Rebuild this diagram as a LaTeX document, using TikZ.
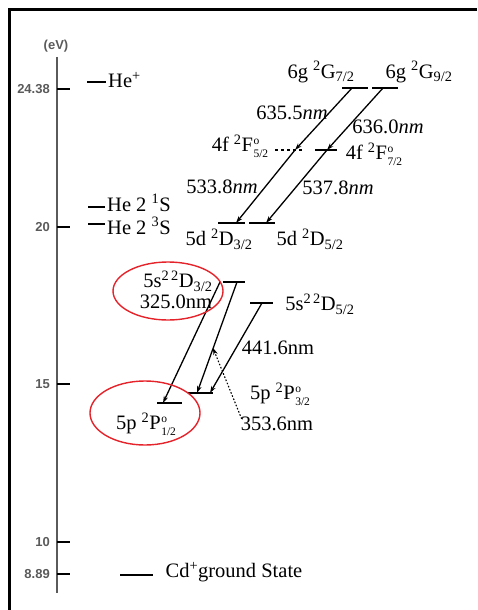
\documentclass[tikz,border=0pt]{standalone}
\usepackage{fontspec}
\setmainfont{Liberation Serif}
\newfontfamily\axisfont{Liberation Sans}
\usepackage{xcolor}
\usepackage{tikz}
\usetikzlibrary{arrows.meta,positioning,calc}
\definecolor{ringred}{HTML}{E5232B}
\definecolor{axisgray}{HTML}{5A5A5A}

% open-shell mark stacked over a subscript
\newcommand{\osub}[1]{\kern0.5pt\raisebox{0.1ex}{\fontsize{11.5}{13}\selectfont
  \begin{tabular}[c]{@{}l@{}}o\\#1\end{tabular}}}

\begin{document}
\begin{tikzpicture}[
  x=1pt,y=-1pt,
  font=\fontsize{20.5}{22}\selectfont,
  lbl/.style={inner sep=0pt},
  tick/.style={font=\axisfont\bfseries\fontsize{13}{13}\selectfont,text=axisgray,
               anchor=east,inner sep=0pt},
  lvl/.style={line width=2pt},
  tr/.style={-{Stealth[length=7pt,width=4.5pt]},line width=1.3pt},
  dotarr/.style={tr,dash pattern=on 1.6pt off 1.8pt,line width=1.1pt},
  ring/.style={draw=ringred,line width=1.4pt},
  frame/.style={line width=3pt},
]
\useasboundingbox (0,0) rectangle (477,610);

% ---- Frame and energy axis
\draw[frame] (9,610) -- (9,10) -- (477,10);
\coordinate (axtop) at (57,57);
\coordinate (axbot) at (57,593);
\draw[draw=axisgray,line width=1.8pt] (axtop) -- (axbot);
\node[tick,anchor=south] (ev) at (56,52) {(eV)};

\draw[line width=1.6pt] (57,89)  -- ++(13,0);
\draw[line width=1.6pt] (57,227) -- ++(13,0);
\draw[line width=1.6pt] (57,384) -- ++(13,0);
\draw[line width=1.6pt] (57,542) -- ++(13,0);
\draw[line width=1.6pt] (57,574) -- ++(13,0);
\node[tick] (t2438) at (50,89)  {24.38};
\node[tick] (t20)   at (50,227) {20};
\node[tick] (t15)   at (50,384) {15};
\node[tick] (t10)   at (50,542) {10};
\node[tick] (t889)  at (50,574) {8.89};

% ---- Helium levels
\draw[lvl] (87,82) coordinate (hep) -- ++(19,0);
\draw[lvl] (88,207) coordinate (he1s) -- ++(17,0);
\draw[lvl] (88,224) coordinate (he3s) -- ++(17,0);
\node[lbl,anchor=west] (lhep)  at (108,80)  {He\textsuperscript{+}};
\node[lbl,anchor=west] (lhe1s) at (107,203) {He 2 \textsuperscript{1}S};
\node[lbl,anchor=west] (lhe3s) at (107,226) {He 2 \textsuperscript{3}S};

% ---- Cd+ levels
\draw[lvl] (342,88)  coordinate (g7) -- ++(26,0);
\draw[lvl] (372,88)  coordinate (g9) -- ++(26,0);
\draw[lvl,dashed] (275,150) coordinate (f5) -- ++(28,0);
\draw[lvl] (315,150) coordinate (f7) -- ++(22,0);
\draw[lvl] (218,223) coordinate (d3) -- ++(27,0);
\draw[lvl] (249,223) coordinate (d5) -- ++(26,0);
\draw[lvl] (223,282) coordinate (s3) -- ++(22,0);
\draw[lvl] (250,303) coordinate (s5) -- ++(23,0);
\draw[lvl] (188,393) coordinate (p3) -- ++(25,0);
\draw[lvl] (157,403) coordinate (p1) -- ++(25,0);
\draw[lvl] (120,575) coordinate (gs) -- ++(33,0);

\node[lbl] (lg7) at (321,72)  {6g \textsuperscript{2}G\textsubscript{7/2}};
\node[lbl] (lg9) at (419,72)  {6g \textsuperscript{2}G\textsubscript{9/2}};
\node[lbl] (lf5) at (240,148) {4f \textsuperscript{2}F\osub{5/2}};
\node[lbl] (lf7) at (374,156) {4f \textsuperscript{2}F\osub{7/2}};
\node[lbl] (ld3) at (219,239) {5d \textsuperscript{2}D\textsubscript{3/2}};
\node[lbl] (ld5) at (310,239) {5d \textsuperscript{2}D\textsubscript{5/2}};
\node[lbl] (ls3) at (178,281) {5s\textsuperscript{2\,2}D\textsubscript{3/2}};
\node[lbl] (ls5) at (320,304) {5s\textsuperscript{2\,2}D\textsubscript{5/2}};
\node[lbl] (lp3) at (280,396) {5p \textsuperscript{2}P\osub{3/2}};
\node[lbl] (lp1) at (146,426) {5p \textsuperscript{2}P\osub{1/2}};
\node[lbl] (lgs) at (234,572) {Cd\textsuperscript{+}ground State};

% ---- Transitions
\draw[tr] ([xshift=10]g7) -- ([xshift=20]f5);
\draw[tr] ([xshift=20]f5) -- ([xshift=18]d3);
\draw[tr] ([xshift=11]g9) -- ([xshift=12]f7);
\draw[tr] ([xshift=12]f7) -- ([xshift=17]d5);
\draw[tr] ([xshift=-3]s3) -- ([xshift=6]p1);
\draw[tr] ([xshift=14]s3) -- ([xshift=9]p3);
\draw[tr] ([xshift=12]s5) -- ([xshift=22]p3);

\node[lbl] (w6355) at (292,113) {635.5\textit{nm}};
\node[lbl] (w6360) at (388,127) {636.0\textit{nm}};
\node[lbl] (w5338) at (222,187) {533.8\textit{nm}};
\node[lbl] (w5378) at (338,188) {537.8\textit{nm}};
\node[lbl] (w3250) at (176,302) {325.0nm};
\node[lbl] (w4416) at (278,348) {441.6nm};
\node[lbl] (w3536) at (277,424) {353.6nm};

\coordinate (hit) at (213,348);
\draw[dotarr] ([xshift=1,yshift=-2]w3536.north west) -- (hit);

% ---- Highlight rings
\draw[ring] (168,291) ellipse [x radius=55,y radius=29];
\draw[ring] (145,413) ellipse [x radius=55,y radius=32];

\end{tikzpicture}
\end{document}
